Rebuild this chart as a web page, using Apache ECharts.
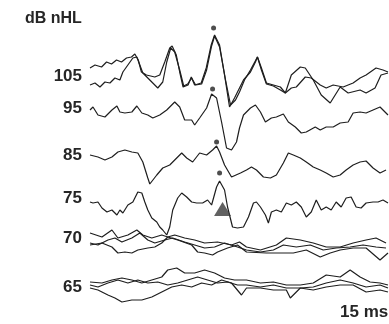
<!DOCTYPE html>
<html>
<head>
<meta charset="utf-8">
<script src="https://cdn.jsdelivr.net/npm/echarts@6/dist/echarts.min.js"></script>
<style>
  html, body { margin: 0; padding: 0; background: #fff; }
  #chart { width: 389px; height: 324px; }
</style>
</head>
<body>
<div id="chart"></div>
<script>
// Stimulus levels (dB nHL), top to bottom
const levels = ['105', '95', '85', '75', '70', '65'];

// Averaged ABR sweeps: [latency ms, amplitude] relative to each level's baseline
const sweep105a = [[0,10],[0.25,13],[0.58,11],[0.83,16],[1.08,14],[1.33,18],[1.58,16],[1.83,20],[2.08,21],[2.25,24],[2.42,18],[2.58,6],[2.83,3],[3.25,1],[3.5,3],[3.75,16],[4.0,30],[4.12,32],[4.33,23],[4.5,6],[4.67,-9],[4.92,-7],[5.08,1],[5.25,-7],[5.58,-5],[5.83,10],[6.08,33],[6.25,43],[6.5,33],[6.75,3],[7.0,-29],[7.25,-20],[7.45,-12],[7.7,-2],[8.05,6],[8.3,16],[8.4,21],[8.6,10],[8.85,-5],[9.2,-7],[9.55,-9],[9.8,-15],[10.1,3],[10.55,11],[10.8,10],[11.2,-2],[11.6,-17],[12.05,-25],[12.3,-17],[12.55,-9],[12.95,-15],[13.55,-12],[13.85,-15],[14.3,-10],[14.6,3],[14.95,5]];
const sweep105b = [[0,-7],[0.25,-5],[0.5,-9],[0.75,-4],[1.0,-5],[1.25,0],[1.5,-2],[1.65,6],[1.9,13],[2.15,20],[2.35,21],[2.5,13],[2.65,5],[2.9,0],[3.15,-5],[3.4,-10],[3.65,-4],[3.85,16],[4.05,30],[4.25,26],[4.5,8],[4.7,-8],[4.9,-6],[5.1,0],[5.3,-7],[5.6,-6],[5.85,8],[6.1,32],[6.25,42],[6.5,31],[6.8,-2],[7.05,-27],[7.3,-22],[7.5,-14],[7.75,-2],[8.05,8],[8.4,21],[8.6,8],[8.85,-6],[9.2,-8],[9.55,-12],[9.8,-15],[10.1,-10],[10.35,-9],[10.8,1],[11.1,0],[11.55,-7],[11.85,-10],[12.2,-7],[12.7,-9],[13.2,-5],[13.55,0],[13.85,3],[14.35,10],[14.7,8],[14.95,6]];
const sweep95 = [[0,-2],[0.15,1],[0.4,-7],[0.75,-9],[1.1,-2],[1.35,2],[1.5,-4],[1.75,-5],[2.1,-4],[2.35,2],[2.6,-5],[2.9,-7],[3.15,-10],[3.5,-7],[3.85,-2],[4.25,6],[4.5,1],[4.75,-12],[5.1,-12],[5.25,-17],[5.5,-10],[5.85,0],[6.1,14],[6.35,10],[6.6,-14],[6.85,-40],[7.1,-42],[7.35,-34],[7.5,-20],[7.7,-7],[8.05,0],[8.3,3],[8.55,-4],[8.8,-14],[9.1,-10],[9.35,-9],[9.7,-6],[9.95,-14],[10.3,-19],[10.6,-25],[10.85,-24],[11.3,-19],[11.55,-22],[11.85,-19],[12.2,-19],[12.55,-15],[12.95,-14],[13.2,-5],[13.55,-4],[13.85,-5],[14.2,-2],[14.55,1],[14.8,-4],[14.95,-7]];
const sweep85 = [[0,1],[0.4,-1],[0.75,-4],[1.1,-1],[1.4,4],[1.75,6],[2.1,4],[2.4,3],[2.65,-6],[2.9,-22],[3.0,-28],[3.35,-19],[3.65,-12],[4.0,-9],[4.25,-4],[4.6,3],[4.85,-2],[5.15,-6],[5.5,3],[5.85,1],[6.15,6],[6.35,10],[6.5,4],[6.75,-9],[7.1,-21],[7.55,-17],[7.85,-14],[8.1,-11],[8.35,-14],[8.7,-21],[9.05,-22],[9.35,-19],[9.7,-7],[9.95,3],[10.2,1],[10.55,-2],[10.85,-6],[11.2,-11],[11.55,-14],[11.85,-17],[12.2,-21],[12.55,-19],[12.85,-14],[13.2,-9],[13.55,-6],[13.85,-5],[14.2,-12],[14.55,-17],[14.85,-14]];
const sweep75 = [[0,0],[0.15,-1],[0.4,0],[0.6,-6],[0.85,-10],[1.1,-8],[1.35,-13],[1.5,-8],[1.65,-11],[1.9,-3],[2.15,0],[2.4,10],[2.6,9],[2.75,0],[2.9,-8],[3.1,-16],[3.35,-20],[3.5,-25],[3.65,-28],[3.85,-33],[4.0,-25],[4.15,-8],[4.4,4],[4.6,9],[4.85,5],[5.1,0],[5.35,-1],[5.65,-1],[5.9,2],[6.1,-3],[6.35,15],[6.5,21],[6.6,20],[6.75,12],[6.9,-5],[7.15,-25],[7.4,-26],[7.7,-25],[7.95,-15],[8.2,-1],[8.35,0],[8.55,-5],[8.8,-13],[8.95,-21],[9.1,-10],[9.35,-8],[9.6,-10],[9.85,-1],[10.1,-3],[10.35,0],[10.6,-5],[10.85,-15],[11.1,-10],[11.35,2],[11.6,-8],[11.85,-5],[12.1,-8],[12.35,0],[12.6,-5],[12.85,4],[13.1,5],[13.35,-5],[13.6,-6],[13.85,-1],[14.2,0],[14.45,0],[14.7,2],[14.95,-1]];
const sweep70a = [[0,9],[0.6,5],[1.1,12],[1.4,4],[1.9,7],[2.35,12],[2.65,7],[3.1,4],[3.6,7],[3.9,5],[4.25,7],[4.75,4],[5.25,2],[5.75,-1],[6.4,0],[7.1,-3],[7.5,0],[7.85,-5],[8.55,-8],[9.35,-3],[9.85,4],[10.55,2],[11.2,-1],[11.85,-5],[12.55,-5],[13.2,-1],[13.85,2],[14.35,4],[14.85,-1]];
const sweep70b = [[0,-1],[0.4,-3],[0.9,2],[1.25,4],[1.6,0],[2.1,4],[2.5,9],[2.9,2],[3.25,-1],[3.75,2],[4.15,4],[4.75,0],[5.25,-3],[5.75,-6],[6.25,-5],[6.75,-1],[7.4,-5],[7.85,-8],[8.55,-10],[9.2,-8],[9.7,-3],[10.35,-5],[11.05,-3],[11.7,-8],[12.35,-6],[13.05,-5],[13.7,-3],[14.35,-5],[14.85,-6]];
const sweep70c = [[0,-3],[0.6,-1],[1.1,-5],[1.4,-11],[1.75,-10],[2.1,-11],[2.4,-8],[2.9,-6],[3.25,-5],[3.6,-1],[3.9,5],[4.4,2],[5.1,-3],[5.4,-10],[5.75,-11],[6.15,-13],[6.4,-10],[6.9,-6],[7.4,-3],[7.85,-10],[8.85,-11],[9.55,-11],[10.2,-11],[10.85,-8],[11.55,-15],[12.05,-11],[12.55,-8],[13.2,-6],[13.85,-6],[14.55,-18],[14.95,-11]];
const sweep65a = [[0,3],[0.6,2],[1.1,5],[1.6,7],[2.1,5],[2.6,2],[3.1,5],[3.6,8],[3.9,15],[4.35,17],[4.75,12],[5.25,12],[5.75,15],[6.25,12],[6.75,7],[7.25,5],[7.85,5],[8.55,2],[9.2,3],[9.85,0],[10.55,0],[11.2,2],[11.85,10],[12.55,8],[13.05,15],[13.55,8],[14.05,3],[14.55,2],[14.95,0]];
const sweep65b = [[0,0],[0.4,-2],[0.9,2],[1.4,5],[1.9,2],[2.4,5],[2.9,2],[3.4,3],[3.9,0],[4.4,2],[4.9,5],[5.4,8],[5.9,5],[6.4,2],[6.9,3],[7.4,0],[7.85,0],[8.55,-2],[9.2,0],[9.85,-3],[10.55,-3],[11.2,-2],[11.85,2],[12.55,5],[13.2,2],[13.85,-2],[14.55,0],[14.95,-3]];
const sweep65c = [[0,-3],[0.4,-5],[0.9,-10],[1.25,-13],[1.6,-17],[2.1,-15],[2.6,-15],[3.1,-12],[3.6,-7],[4.1,-2],[4.6,0],[5.1,-2],[5.6,2],[6.1,0],[6.6,5],[7.1,2],[7.6,-10],[7.85,-3],[8.55,-3],[9.2,-5],[9.85,-5],[10.05,-13],[10.55,-3],[11.2,-5],[11.85,-2],[12.55,0],[13.2,0],[13.85,-7],[14.55,-5],[14.95,-7]];

// Wave V markers: [latency ms, amplitude] per level 105, 95, 85, 75
const waveVLevels = ['105', '95', '85', '75'];
const waveV = [[6.2, 50], [6.15, 19], [6.35, 14], [6.5, 29]];
// Threshold marker at 75 dB nHL
const thresholdMark = [6.65, -7];

// Axis range
const timeMaxMs = 15;
const xTickLabel = '15 ms';

// ---- layout (vertical baseline of each level, in chart units) ----
const baseline = { '105': 246, '95': 216, '85': 168, '75': 122, '70': 82, '65': 39 };
const labelY = { '105': 78, '95': 110, '85': 157, '75': 200, '70': 240, '65': 289 };

const traces = [
  ['105', sweep105a], ['105', sweep105b],
  ['95', sweep95], ['85', sweep85], ['75', sweep75],
  ['70', sweep70a], ['70', sweep70b], ['70', sweep70c],
  ['65', sweep65a], ['65', sweep65b], ['65', sweep65c]
];

const ink = '#1e1e1e';
const series = traces.map(([lvl, pts]) => ({
  type: 'line',
  data: pts.map(([t, a]) => [t, baseline[lvl] + a]),
  showSymbol: false,
  smooth: false,
  lineStyle: { color: ink, width: 1.2 },
  silent: true,
  z: 2
}));

series.push({
  type: 'scatter',
  data: waveV.map(([t, a], i) => [t, baseline[waveVLevels[i]] + a]),
  symbol: 'circle',
  symbolSize: 5,
  itemStyle: { color: '#222' },
  silent: true,
  z: 3
});

series.push({
  type: 'scatter',
  data: [[thresholdMark[0], baseline['75'] + thresholdMark[1]]],
  symbol: 'triangle',
  symbolSize: [17, 14],
  itemStyle: { color: '#3a3a3a' },
  silent: true,
  z: 3
});

const textStyle = { fontFamily: 'Liberation Sans, Arial, sans-serif', fontWeight: 'bold', fill: '#262626' };

const graphics = [
  { type: 'text', left: 25, top: 11, style: Object.assign({ text: 'dB nHL', fontSize: 16 }, textStyle) },
  { type: 'text', left: 340, top: 304, style: Object.assign({ text: xTickLabel, fontSize: 17 }, textStyle) }
].concat(levels.map(lvl => ({
  type: 'text',
  right: 389 - 82,
  top: labelY[lvl] - 10,
  style: Object.assign({ text: lvl, fontSize: 17, align: 'right' }, textStyle)
})));

const chart = echarts.init(document.getElementById('chart'), null, { renderer: 'canvas' });
chart.setOption({
  animation: false,
  backgroundColor: '#ffffff',
  grid: { left: 90, right: -1, top: 0, bottom: 0 },
  xAxis: { type: 'value', min: 0, max: timeMaxMs, show: false },
  yAxis: { type: 'value', min: 0, max: 324, show: false },
  series: series,
  graphic: graphics
});
</script>
</body>
</html>
